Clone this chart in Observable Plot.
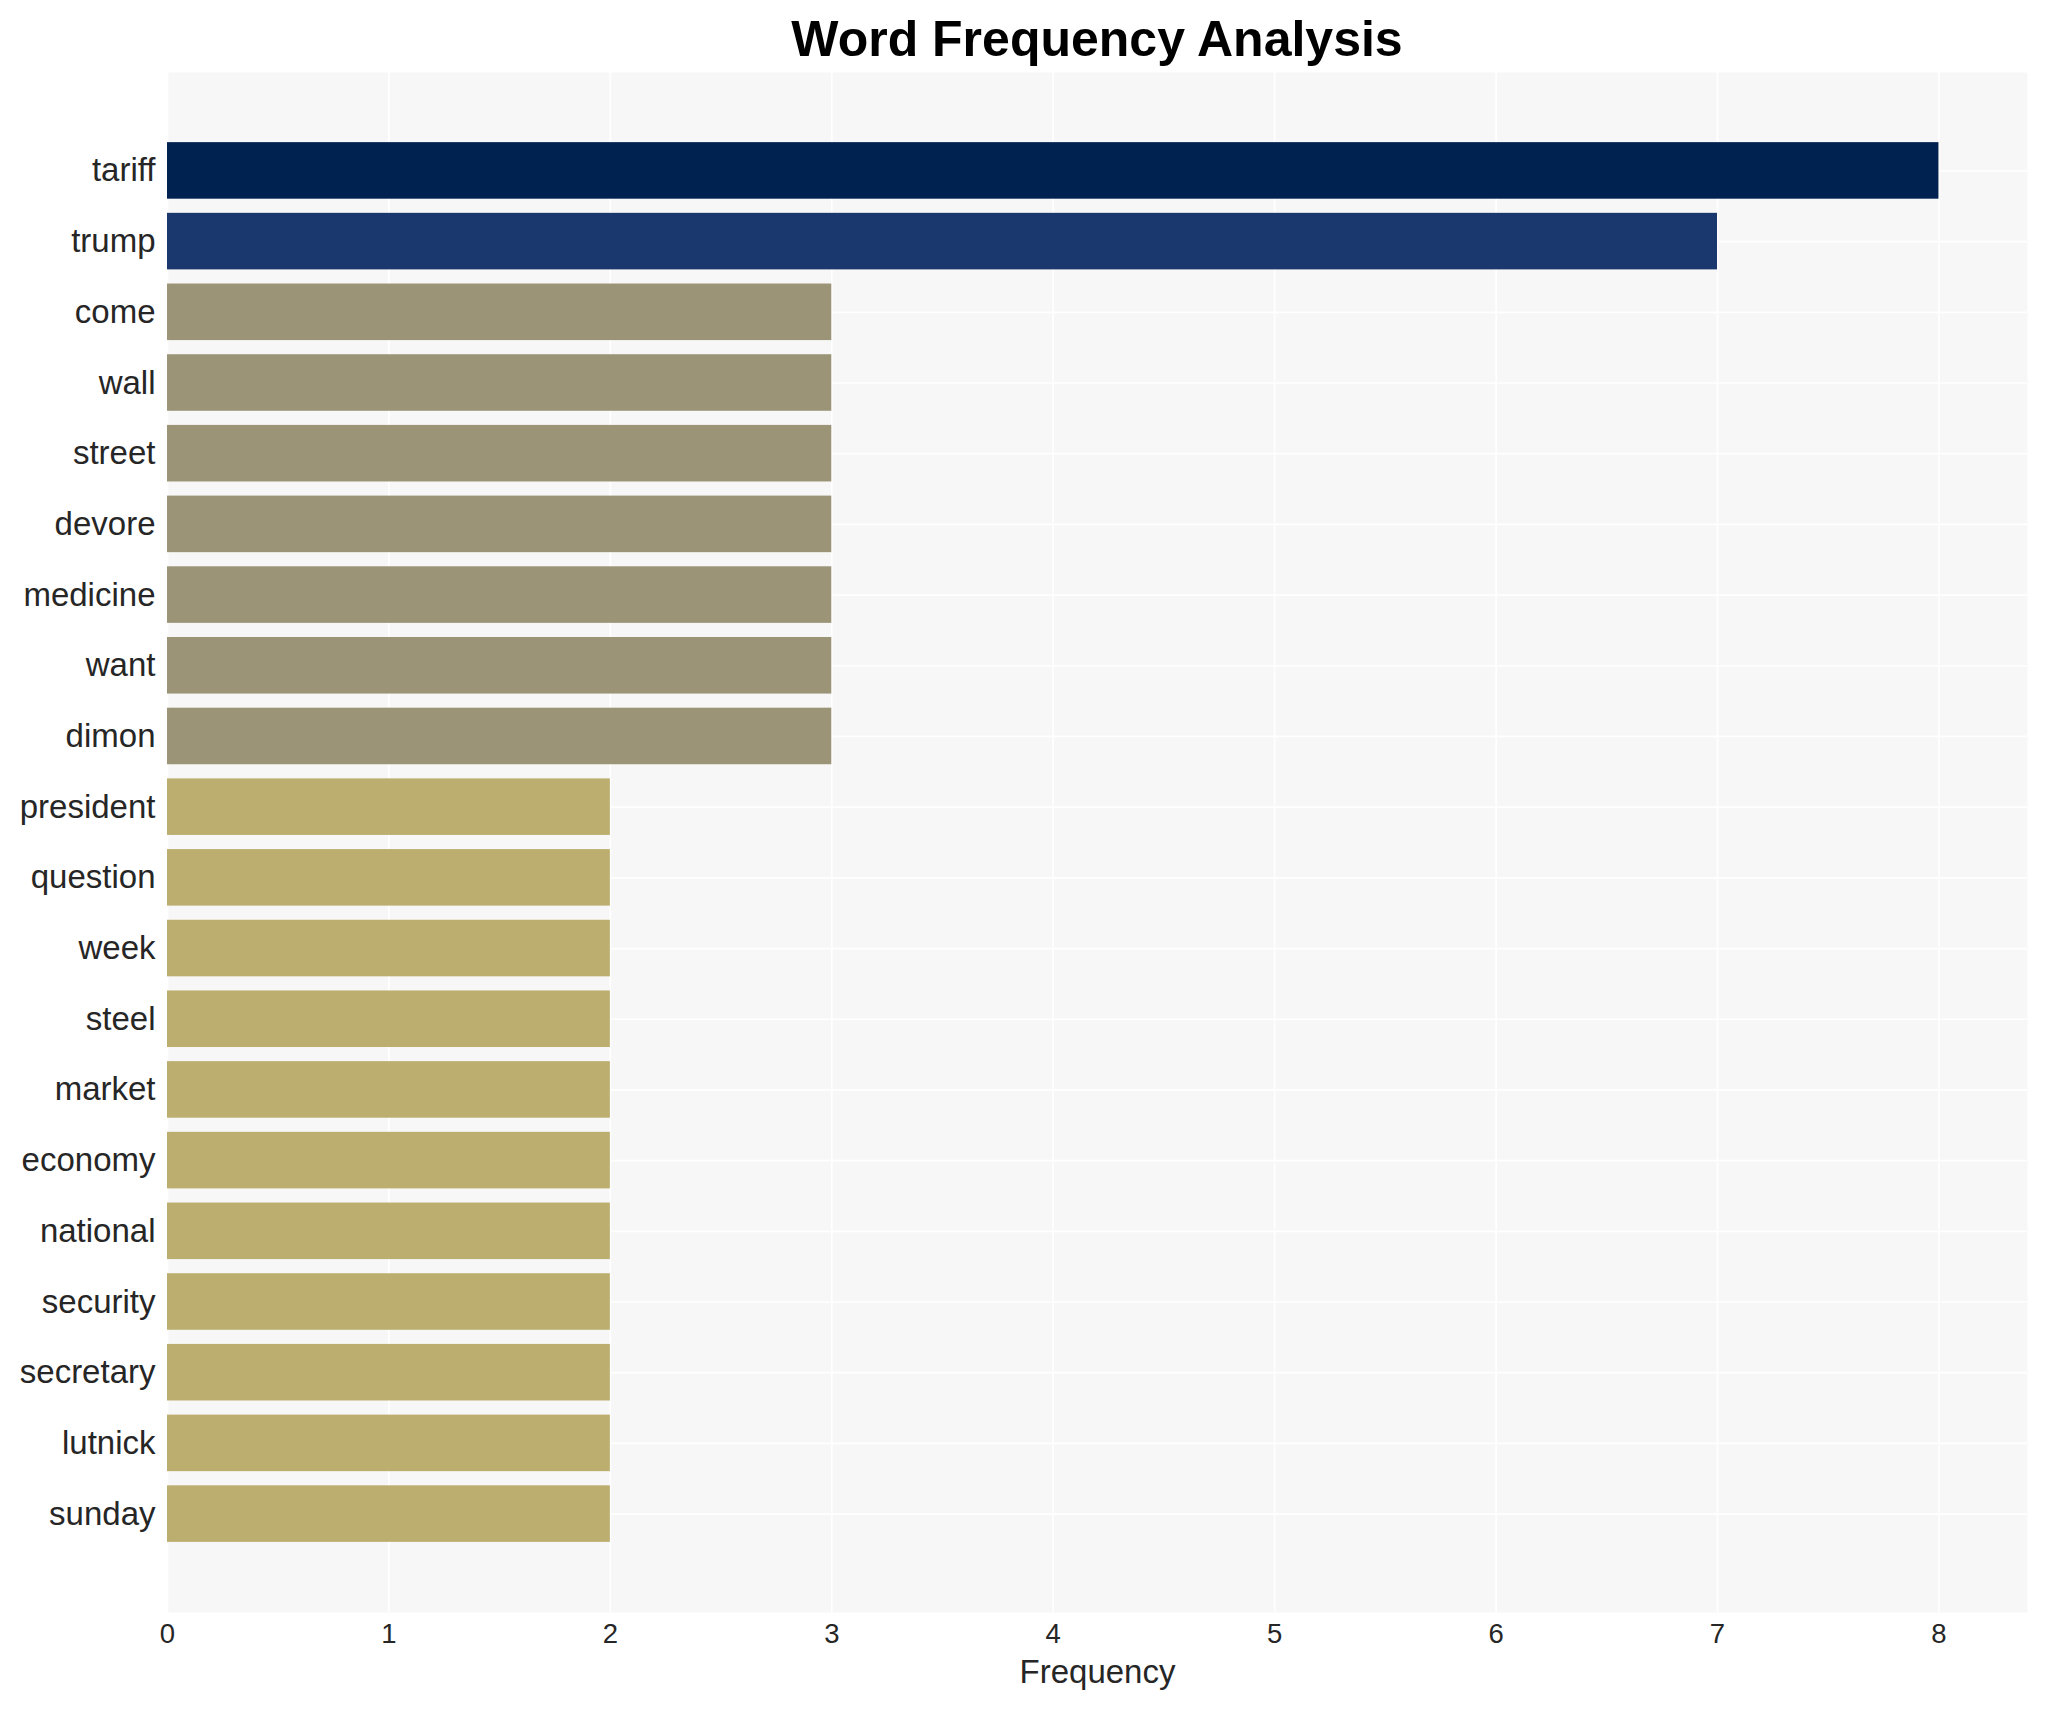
<!DOCTYPE html>
<html>
<head>
<meta charset="utf-8">
<script src="https://cdn.jsdelivr.net/npm/d3@7"></script>
<script src="https://cdn.jsdelivr.net/npm/@observablehq/plot@0.6"></script>
<style>
  html, body { margin: 0; padding: 0; background: #ffffff; }
  #title {
    width: 2046px; height: 72px; box-sizing: border-box;
    padding: 3px 19px 0 167px;
    text-align: center; font: 700 50px "Liberation Sans", Arial, sans-serif;
    line-height: 72px;
    color: #000; white-space: nowrap;
  }
  #chart svg { display: block; }
</style>
</head>
<body>
<div id="title">Word Frequency Analysis</div>
<div id="chart"></div>
<script>
const words = ["tariff", "trump", "come", "wall", "street", "devore", "medicine", "want", "dimon",
  "president", "question", "week", "steel", "market", "economy", "national", "security",
  "secretary", "lutnick", "sunday"];
const counts = [8, 7, 3, 3, 3, 3, 3, 3, 3, 2, 2, 2, 2, 2, 2, 2, 2, 2, 2, 2];
const colorValues = [8, 7, 3, 2];
const colorRange = ["#002250", "#1A386D", "#9B9477", "#BBAE6E"];
const xTicks = [0, 1, 2, 3, 4, 5, 6, 7, 8];
const xDomain = [0, 8.4];
const xLabel = "Frequency";

const data = words.map((w, i) => ({word: w, count: counts[i]}));

const plot = Plot.plot({
  width: 2046,
  height: 1638,
  marginTop: 0,
  marginBottom: 98,
  marginLeft: 167,
  marginRight: 19,
  style: {fontFamily: "'Liberation Sans', Arial, sans-serif", background: "transparent", color: "#262626"},
  x: {domain: xDomain, ticks: xTicks, label: null},
  y: {domain: words, padding: 0.2, round: false, insetTop: 56, insetBottom: 56, label: null},
  color: {type: "ordinal", domain: colorValues, range: colorRange},
  marks: [
    Plot.frame({fill: "#F7F7F7", stroke: null}),
    Plot.gridX(xTicks, {stroke: "#ffffff", strokeOpacity: 1, strokeWidth: 1.7}),
    Plot.gridY({stroke: "#ffffff", strokeOpacity: 1, strokeWidth: 1.7}),
    Plot.barX(data, {x: "count", y: "word", fill: "count"}),
    Plot.axisX(xTicks, {tickSize: 0, tickPadding: 11, fontSize: 27.5, label: null, fill: "#262626", tickFormat: d => String(d)}),
    Plot.axisY({tickSize: 0, tickPadding: 12, fontSize: 33, label: null, fill: "#262626"}),
    Plot.text([xLabel], {frameAnchor: "bottom", lineAnchor: "middle", dy: 60.4, fontSize: 33, fill: "#262626"})
  ]
});
document.getElementById("chart").appendChild(plot);
</script>
</body>
</html>
